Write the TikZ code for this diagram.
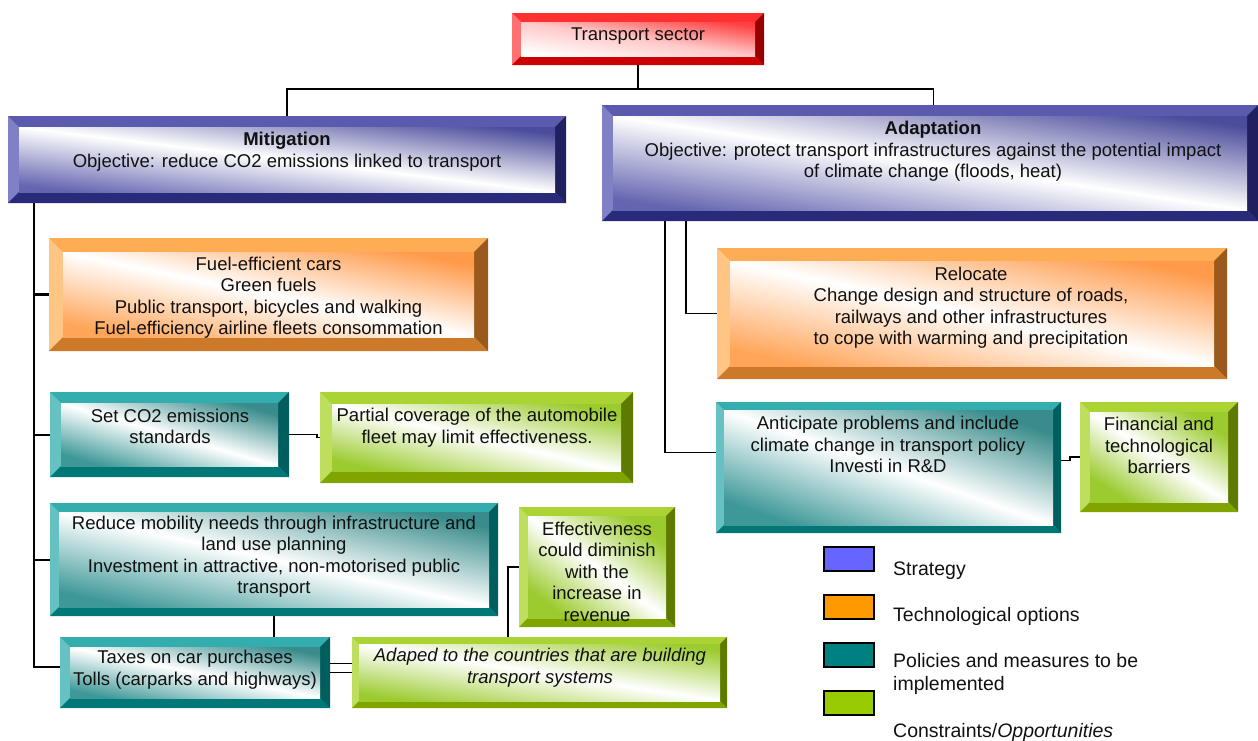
\documentclass[tikz,border=0pt]{standalone}
\usepackage{fontspec}
\setmainfont{Liberation Sans}
\usetikzlibrary{calc}

% palettes: T top, L left, R right, B bottom, S1 shade top-right, S2 middle, S3 bottom-left
\definecolor{redT}{HTML}{FF3030}\definecolor{redL}{HTML}{FF7070}\definecolor{redR}{HTML}{960000}\definecolor{redB}{HTML}{CC0000}
\definecolor{redS1}{HTML}{FF4040}\definecolor{redS2}{HTML}{FFC8C8}\definecolor{redS3}{HTML}{FFFFFF}
\definecolor{blueT}{HTML}{5A5AAE}\definecolor{blueL}{HTML}{8080C6}\definecolor{blueR}{HTML}{20205E}\definecolor{blueB}{HTML}{2A2A7A}
\definecolor{blueS1}{HTML}{4C4C9C}\definecolor{blueS2}{HTML}{FFFFFF}\definecolor{blueS3}{HTML}{6464B0}
\definecolor{orT}{HTML}{FFAD55}\definecolor{orL}{HTML}{FFC585}\definecolor{orR}{HTML}{9A5A1E}\definecolor{orB}{HTML}{CC7A29}
\definecolor{orS1}{HTML}{FF9A4A}\definecolor{orS2}{HTML}{FFFFFF}\definecolor{orS3}{HTML}{FFA55A}
\definecolor{teT}{HTML}{33ADAD}\definecolor{teL}{HTML}{66C2C2}\definecolor{teR}{HTML}{005E5E}\definecolor{teB}{HTML}{007878}
\definecolor{teS1}{HTML}{3A8C8C}\definecolor{teS2}{HTML}{FFFFFF}\definecolor{teS3}{HTML}{3E9898}
\definecolor{grT}{HTML}{AAD433}\definecolor{grL}{HTML}{BEDF5E}\definecolor{grR}{HTML}{5E7A00}\definecolor{grB}{HTML}{80A400}
\definecolor{grS1}{HTML}{9CCB30}\definecolor{grS2}{HTML}{FFFFFF}\definecolor{grS3}{HTML}{9CCB30}
\definecolor{legblue}{HTML}{6666FF}\definecolor{legor}{HTML}{FF9900}\definecolor{legte}{HTML}{008080}\definecolor{leggr}{HTML}{99CC00}
\definecolor{ink}{HTML}{111111}

% \bevelpic{palette}{bevel}{node name}
\newcommand\bevelpic[3]{%
  \path (#3.north west); \pgfgetlastxy{\bxa}{\bya}%
  \path (#3.south east); \pgfgetlastxy{\bxb}{\byb}%
  \pgfmathsetmacro\bang{-atan((\bya-\byb-2*#2)/(\bxb-\bxa-2*#2))}%
  \fill[#1T] (\bxa,\bya) rectangle (\bxb,\byb);
  \fill[#1L] (\bxa,\bya) -- (\bxa+#2,\bya-#2) -- (\bxa+#2,\byb+#2) -- (\bxa,\byb) -- cycle;
  \fill[#1R] (\bxb,\bya) -- (\bxb-#2,\bya-#2) -- (\bxb-#2,\byb+#2) -- (\bxb,\byb) -- cycle;
  \fill[#1B] (\bxa,\byb) -- (\bxa+#2,\byb+#2) -- (\bxb-#2,\byb+#2) -- (\bxb,\byb) -- cycle;
  \shade[top color=#1S1, bottom color=#1S3, middle color=#1S2, shading angle=\bang]
    (\bxa+#2,\bya-#2) rectangle (\bxb-#2,\byb+#2);
}

\tikzset{
  bevbox/.style={rectangle, inner sep=0pt, outer sep=0pt},
  txt/.style={align=center, inner sep=0pt, text=ink, font=\fontsize{18.5}{21.5}\selectfont},
  legtxt/.style={anchor=west, align=left, inner sep=0pt, text=ink, font=\fontsize{19.5}{22.5}\selectfont},
  legsq/.style={draw=black, line width=1.6pt, minimum width=50pt, minimum height=24pt, inner sep=0pt},
  conn/.style={draw=black, line width=1.6pt},
  trunk/.style={draw=black, line width=2pt},
}

% \bx{name}{palette}{bevel}{x1}{y1}{x2}{y2}
\newcommand\bx[7]{\node[bevbox, minimum width={(#6-#4)*1pt}, minimum height={(#7-#5)*1pt}] (#1) at ({(#4+#6)/2},{(#5+#7)/2}) {};\bevelpic{#2}{#3}{#1}}

\begin{document}
\begin{tikzpicture}[x=1pt, y=-1pt]
\useasboundingbox (0,0) rectangle (1258,740);

% boxes
\bx{trans}{red}{9pt}{512}{13}{764}{65}
\bx{mit}{blue}{11pt}{8}{116}{566}{203}
\bx{ada}{blue}{11pt}{602}{105}{1258}{221}
\bx{tech}{or}{14pt}{49}{238}{488}{351}
\bx{setco}{te}{11pt}{50}{392}{289}{477}
\bx{partial}{gr}{12pt}{320}{392}{633}{483}
\bx{reduce}{te}{9pt}{50}{503}{498}{616}
\bx{taxes}{te}{10pt}{60}{637}{330}{708}
\bx{adapted}{gr}{7pt}{352}{637}{727}{708}
\bx{effect}{gr}{9pt}{519}{507}{675}{627}
\bx{reloc}{or}{13pt}{717}{248}{1227}{379}
\bx{antic}{te}{8pt}{716}{402}{1061}{533}
\bx{fin}{gr}{10pt}{1080}{402}{1238}{512}

% texts
\node[txt] (trans-t) at (638,36) {Transport sector};
\node[txt] (mit-t) at (287,151.5) {\textbf{Mitigation}\\Objective: reduce CO2 emissions linked to transport};
\node[txt] (ada-t) at (933,151.5) {\textbf{Adaptation}\\Objective: protect transport infrastructures against the potential impact\\of climate change (floods, heat)};
\node[txt] (tech-t) at (268.5,297.5) {Fuel-efficient cars\\Green fuels\\Public transport, bicycles and walking\\Fuel-efficiency airline fleets consommation};
\node[txt] (setco-t) at (170,426.5) {Set CO2 emissions\\standards};
\node[txt] (partial-t) at (477,427.5) {Partial coverage of the automobile\\fleet may limit effectiveness.};
\node[txt] (reduce-t) at (274,556.5) {Reduce mobility needs through infrastructure and\\land use planning\\Investment in attractive, non-motorised public\\transport};
\node[txt] (taxes-t) at (195,669.5) {Taxes on car purchases\\Tolls (carparks and highways)};
\node[txt] (adapted-t) at (540,667.5) {\itshape Adaped to the countries that are building\\\itshape transport systems};
\node[txt] (effect-t) at (597,571.5) {Effectiveness\\could diminish\\with the\\increase in\\revenue};
\node[txt] (reloc-t) at (971,307.5) {Relocate\\Change design and structure of roads,\\railways and other infrastructures\\to cope with warming and precipitation};
\node[txt] (antic-t) at (888,444.5) {Anticipate problems and include\\climate change in transport policy\\Investi in R\&D};
\node[txt] (fin-t) at (1159,445.5) {Financial and\\technological\\barriers};

% connectors
\coordinate (top-j) at (638,89);
\draw[conn] (trans.south) -- (top-j);
\draw[conn] (mit.north) |- (top-j);
\draw[conn] ([xshift=3.5pt]ada.north) |- (top-j);

\draw[trunk, line width=2.6pt] ([xshift=26pt]mit.south west) |- (tech.west);
\draw[trunk] ([xshift=26pt]mit.south west) |- (setco.west);
\draw[trunk] ([xshift=26pt]mit.south west) |- (reduce.west);
\draw[trunk] ([xshift=26pt]mit.south west) |- ([yshift=5.5pt]taxes.west);

\draw[conn] (setco.east) -- ++(28pt,0) |- (partial.west);
\draw[conn] (reduce.south) -- (reduce.south |- taxes.north);
\draw[conn] ([yshift=9pt]taxes.east) -- ([yshift=9pt]adapted.west);
\draw[conn] (taxes.east) -- (adapted.west);
\draw[conn] ([xshift=-31.5pt]adapted.north) |- (effect.west);

\draw[conn] ([xshift=84pt]ada.south west) |- (reloc.west);
\draw[conn] ([xshift=63pt]ada.south west) |- ([yshift=15pt]antic.west);
\draw[conn] ([yshift=7pt]antic.east) -- ++(9pt,0) |- (fin.west);

% legend
\node[legsq, fill=legblue] (l1) at (849,559) {};
\node[legsq, fill=legor] (l2) at (849,607) {};
\node[legsq, fill=legte] (l3) at (849,655) {};
\node[legsq, fill=leggr] (l4) at (849,703) {};
\node[legtxt] (l1-t) at (893,570.5) {Strategy};
\node[legtxt] (l2-t) at (893,616.5) {Technological options};
\node[legtxt] (l3-t) at (893,674) {Policies and measures to be\\implemented};
\node[legtxt] (l4-t) at (893,732) {Constraints/\textit{Opportunities}};
\end{tikzpicture}
\end{document}
